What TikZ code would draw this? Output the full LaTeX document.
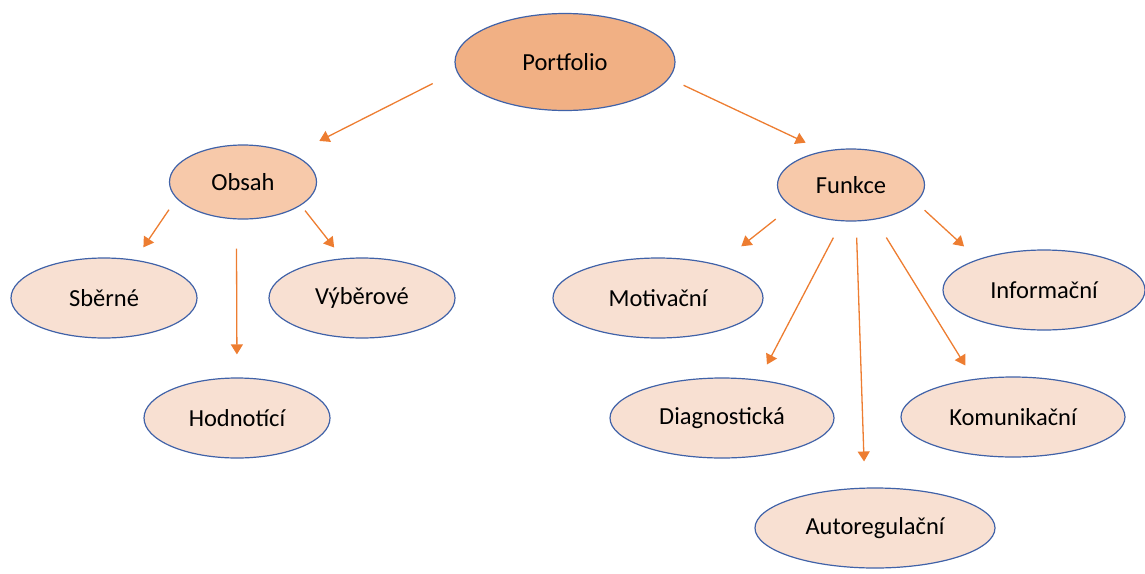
\documentclass[tikz,border=0pt]{standalone}
\usepackage{fontspec}
\setmainfont{Carlito}
\usetikzlibrary{shapes.geometric,arrows.meta}
\definecolor{rim}{HTML}{4062A8}
\definecolor{topfill}{HTML}{F1B084}
\definecolor{midfill}{HTML}{F7C9AA}
\definecolor{leaffill}{HTML}{F8E0D2}
\definecolor{arrowcol}{HTML}{ED7D31}
\tikzset{
    bubble/.style={ellipse, draw=rim, line width=1.2pt, inner sep=0pt,
        font=\fontsize{24.5}{28}\selectfont},
    leaf/.style={bubble, fill=leaffill, minimum height=80pt},
    link/.style={draw=arrowcol, line width=1.3pt,
        -{Triangle[length=10pt,width=12pt]}}
}
\begin{document}
\begin{tikzpicture}[x=1pt,y=-1pt]
    \useasboundingbox (0,0) rectangle (1145,573);
    % top and the two branches
    \node[bubble, fill=topfill, minimum width=220pt, minimum height=97pt]
        (portfolio) at (565,62) {Portfolio};
    \node[bubble, fill=midfill, minimum width=147pt, minimum height=74pt]
        (obsah) at (243,182) {Obsah};
    \node[bubble, fill=midfill, minimum width=147pt, minimum height=72pt]
        (funkce) at (851,185) {Funkce};
    % leaves of Obsah
    \node[leaf, minimum width=186pt] (sberne) at (104,298) {Sběrné};
    \node[leaf, minimum width=186pt] (vyberove) at (362,298) {Výběrové};
    \node[leaf, minimum width=186pt] (hodnotici) at (237,418) {Hodnotící};
    % leaves of Funkce
    \node[leaf, minimum width=210pt] (motivacni) at (658,298) {Motivační};
    \node[leaf, minimum width=202pt] (informacni) at (1044,290) {Informační};
    \node[leaf, minimum width=224pt] (diagnosticka) at (722,418) {Diagnostická};
    \node[leaf, minimum width=224pt] (komunikacni) at (1013,417) {Komunikační};
    \node[leaf, minimum width=240pt] (autoregulacni) at (875,528) {Autoregulační};
    % arrows
    \draw[link, shorten <=26.7pt, shorten >=29.5pt] (portfolio.185) -- (obsah.29.6);
    \draw[link, shorten <=15.9pt, shorten >=19.7pt] (portfolio.351.8) -- (funkce.129.3);
    \draw[link, shorten <=13.4pt, shorten >=14.9pt] (obsah.194.7) -- (sberne.51.2);
    \draw[link, shorten <=29.1pt, shorten >=23pt] (obsah.260.8) -- (hodnotici.90);
    \draw[link, shorten <=6.6pt, shorten >=13.7pt] (obsah.338.5) -- (vyberove.116.7);
    \draw[link, shorten <=19.9pt, shorten >=29.5pt] (funkce.200.7) -- (motivacni.29.6);
    \draw[link, shorten <=18.4pt, shorten >=17.1pt] (funkce.256.8) -- (diagnosticka.46.5);
    \draw[link, shorten <=16.1pt, shorten >=26.1pt] (funkce.278.7) -- (autoregulacni.104.3);
    \draw[link, shorten <=21.1pt, shorten >=15.9pt] (funkce.305.2) -- (komunikacni.136.7);
    \draw[link, shorten <=11.5pt, shorten >=18.8pt] (funkce.345.1) -- (informacni.155.5);
\end{tikzpicture}
\end{document}
